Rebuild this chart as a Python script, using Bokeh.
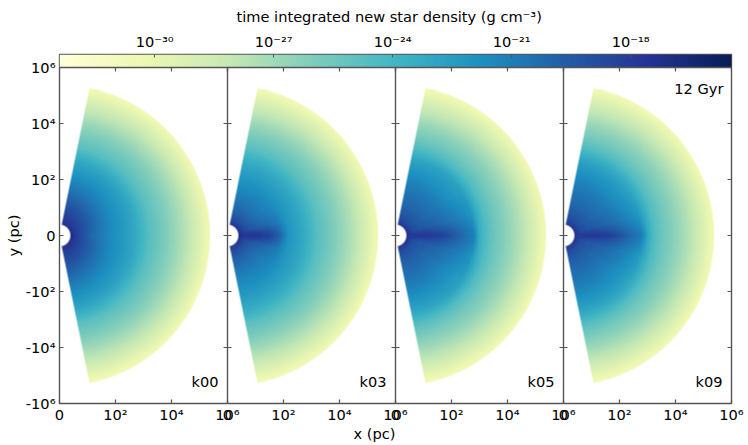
import numpy as np
from bokeh.embed import file_html
from bokeh.models import FixedTicker, LinearAxis, LinearColorMapper, Range1d, Title
from bokeh.palettes import YlGnBu9
from bokeh.plotting import figure
from bokeh.resources import INLINE
from bokeh.core.properties import value

panel_names = ["k00", "k03", "k05", "k09"]
age_label = "12 Gyr"
title_text = "time integrated new star density (g cm\u207b\u00b3)"

axis_ticks = [-6, -4, -2, 0, 2, 4, 6]
y_tick_labels = ["-10\u2076", "-10\u2074", "-10\u00b2", "0", "10\u00b2", "10\u2074", "10\u2076"]
x_panel_ticks = [2, 4, 6]
x_panel_labels = ["10\u00b2", "10\u2074", "10\u2076"]
cbar_ticks = [-30, -27, -24, -21, -18]
cbar_labels = ["10\u207b\u00b3\u2070", "10\u207b\u00b2\u2077", "10\u207b\u00b2\u2074", "10\u207b\u00b2\u00b9", "10\u207b\u00b9\u2078"]
cbar_low, cbar_high = -32.4, -15.46

# Field: log10 density at the polar control points below.
# radius is in symlog decades of the axes, angle in degrees from the +x axis.
radii = [0.39, 0.50, 0.64, 0.86, 1.14, 1.50, 1.86, 2.14, 2.36, 2.57, 2.79, 3.00, 3.21, 3.57, 4.11, 4.64, 5.00, 5.38]
angles = [0, 6, 15, 35, 78.5]
far_mid = [-25.5, -26.7, -28.0, -29.3, -30.7]
far_edge = [-25.6, -26.9, -28.3, -29.5, -30.9]

k00 = [
    [-16.5, -17.4, -18.2, -19.2, -20.1, -20.9, -21.6, -22.1, -22.5, -22.9, -23.4, -24.0, -24.7] + far_mid,
    [-16.8, -17.5, -18.2, -19.1, -20.0, -20.8, -21.6, -22.1, -22.5, -22.9, -23.4, -24.0, -24.7] + far_mid,
    [-17.0, -17.6, -18.2, -19.0, -19.8, -20.7, -21.5, -22.0, -22.4, -22.8, -23.3, -24.0, -24.7] + far_mid,
    [-17.2, -17.6, -18.1, -18.8, -19.6, -20.5, -21.3, -21.9, -22.3, -22.7, -23.3, -24.0, -24.7] + far_mid,
    [-17.4, -17.7, -18.1, -18.6, -19.3, -20.2, -21.0, -21.7, -22.2, -22.7, -23.3, -24.0, -24.8] + far_edge,
]
k03 = [
    [-16.9, -17.3, -17.5, -17.5, -17.6, -18.3, -19.8, -21.8, -22.4, -22.9, -23.4, -24.0, -24.7] + far_mid,
    [-17.0, -17.6, -17.9, -18.1, -18.3, -19.0, -20.2, -21.9, -22.4, -22.9, -23.4, -24.0, -24.7] + far_mid,
    [-17.2, -17.9, -18.6, -19.2, -19.7, -20.3, -21.0, -22.0, -22.5, -22.9, -23.4, -24.0, -24.7] + far_mid,
    [-17.4, -18.2, -19.0, -19.8, -20.4, -21.0, -21.5, -22.1, -22.5, -22.9, -23.4, -24.0, -24.7] + far_mid,
    [-17.6, -18.3, -19.0, -19.7, -20.4, -21.1, -21.7, -22.2, -22.6, -23.0, -23.5, -24.1, -24.8] + far_edge,
]
k05 = [
    [-17.5, -18.0, -17.9, -17.6, -17.6, -17.9, -18.6, -19.5, -20.0, -20.6, -21.0, -23.5, -24.4] + far_mid,
    [-17.3, -17.7, -18.0, -18.2, -18.4, -18.9, -19.5, -20.0, -20.4, -20.8, -21.3, -23.5, -24.4] + far_mid,
    [-17.3, -18.0, -18.7, -19.2, -19.5, -19.9, -20.4, -20.8, -21.1, -21.4, -22.0, -23.4, -24.4] + far_mid,
    [-17.4, -18.2, -18.9, -19.5, -20.0, -20.5, -21.0, -21.5, -21.9, -22.3, -22.5, -23.4, -24.4] + far_mid,
    [-17.6, -18.2, -18.9, -19.5, -20.0, -20.5, -21.0, -21.5, -22.0, -22.4, -23.0, -23.7, -24.5] + far_edge,
]
k09 = [
    [-17.6, -18.0, -17.9, -17.6, -17.6, -17.8, -18.5, -19.4, -20.0, -20.4, -21.0, -23.0, -24.3] + far_mid,
    [-17.4, -17.8, -18.0, -18.2, -18.4, -18.9, -19.5, -20.1, -20.5, -20.9, -21.5, -23.2, -24.4] + far_mid,
    [-17.4, -18.0, -18.7, -19.2, -19.5, -19.9, -20.4, -20.9, -21.3, -21.7, -22.3, -23.4, -24.4] + far_mid,
    [-17.5, -18.2, -18.9, -19.5, -20.0, -20.5, -21.0, -21.5, -21.9, -22.3, -22.8, -23.5, -24.4] + far_mid,
    [-17.6, -18.2, -18.9, -19.5, -20.0, -20.5, -21.0, -21.5, -22.0, -22.4, -23.0, -23.7, -24.5] + far_edge,
]
panel_fields = [k00, k03, k05, k09]

INK = "#555555"
FONT = "DejaVu Sans"
FS = "14.6px"
PX = 28.0  # screen pixels per decade

stops = np.array([[int(c[i:i + 2], 16) for i in (1, 3, 5)] for c in YlGnBu9[::-1]], dtype=float)
pos = np.linspace(0, 1, 256)
rgb = np.stack([np.interp(pos, np.linspace(0, 1, 9), stops[:, k]) for k in range(3)], axis=1)
palette = ["#%02x%02x%02x" % tuple(int(round(v)) for v in row) for row in rgb]
mapper = LinearColorMapper(palette=palette, low=cbar_low, high=cbar_high)
r_in, r_out, th_max = radii[0], radii[-1], angles[-1]


def shade(table):
    """Rasterise the read polar table onto the panel's pixel grid (y = -6..6, x = 0..6)."""
    tbl = np.array(table)
    nx, ny = 168, 336
    xs = (np.arange(nx) + 0.5) / PX
    ys = -6 + (np.arange(ny) + 0.5) / PX
    X, Y = np.meshgrid(xs, ys)
    R = np.hypot(X, Y)
    T = np.degrees(np.arctan2(np.abs(Y), X))
    ri = np.clip(np.searchsorted(radii, R) - 1, 0, len(radii) - 2)
    ti = np.clip(np.searchsorted(angles, T) - 1, 0, len(angles) - 2)
    ra, ta = np.array(radii), np.array(angles)
    fr = np.clip((R - ra[ri]) / (ra[ri + 1] - ra[ri]), 0, 1)
    ft = np.clip((T - ta[ti]) / (ta[ti + 1] - ta[ti]), 0, 1)
    V = (tbl[ti, ri] * (1 - fr) * (1 - ft) + tbl[ti, ri + 1] * fr * (1 - ft)
         + tbl[ti + 1, ri] * (1 - fr) * ft + tbl[ti + 1, ri + 1] * fr * ft)
    idx = np.clip(((V - cbar_low) / (cbar_high - cbar_low) * 255).astype(int), 0, 255)
    a = (np.clip((R - r_in) * PX + 0.5, 0, 1) * np.clip((r_out - R) * PX + 0.5, 0, 1)
         * np.clip(np.radians(th_max - T) * R * PX + 0.5, 0, 1))
    img = np.zeros((ny, nx), dtype=np.uint32)
    view = img.view(dtype=np.uint8).reshape((ny, nx, 4))
    view[..., :3] = rgb[idx].astype(np.uint8)
    view[..., 3] = (a * 255).astype(np.uint8)
    return img


cb_h = 13 / PX
n_panels = len(panel_names)
span = 6
p = figure(width=748, height=445, frame_width=672, frame_height=349,
           x_range=Range1d(0, span * n_panels), y_range=Range1d(-6, 6 + cb_h),
           output_backend="svg", toolbar_location=None,
           min_border_left=59, min_border_right=17, min_border_top=54, min_border_bottom=42)
p.grid.visible = False
p.background_fill_color = "white"
p.outline_line_color = INK
p.outline_line_width = 1.4

# panel fields
for i, tbl in enumerate(panel_fields):
    p.image_rgba(image=[shade(tbl)], x=i * span, y=-6, dw=span, dh=12)

# colour bar
p.extra_x_ranges["cb"] = Range1d(cbar_low, cbar_high)
p.image(image=[np.linspace(cbar_low, cbar_high, 672)[None, :]], x=cbar_low, y=6,
        dw=cbar_high - cbar_low, dh=cb_h, color_mapper=mapper, x_range_name="cb")

# axes; each inner panel boundary carries both the panel's "10^6" and the next panel's "0"
xt, xl = [0], {0: "0"}
for i in range(n_panels):
    for t, s in zip(x_panel_ticks, x_panel_labels):
        xt.append(i * span + t)
        xl[i * span + t] = s
    if i < n_panels - 1:
        zero_tick = (i + 1) * span + 1e-4
        xt.append(zero_tick)
        xl[zero_tick] = "0"
for ax, ticks, labels in ((p.xaxis[0], xt, xl), (p.yaxis[0], axis_ticks, dict(zip(axis_ticks, y_tick_labels)))):
    ax.ticker = FixedTicker(ticks=ticks)
    ax.major_label_overrides = labels
    ax.major_tick_in = 4
    ax.major_tick_out = 0
    ax.minor_tick_line_color = None
    ax.axis_line_color = None
    ax.major_tick_line_color = INK
    ax.major_tick_line_width = 1.2
    ax.major_label_text_font = FONT
    ax.major_label_text_font_size = FS
    ax.major_label_text_color = "black"
p.xaxis[0].major_label_standoff = 2
p.yaxis[0].major_label_standoff = 4

top = LinearAxis(x_range_name="cb", ticker=FixedTicker(ticks=cbar_ticks),
                 major_label_overrides=dict(zip(cbar_ticks, cbar_labels)))
top.major_tick_in = 3
top.major_tick_out = 0
top.minor_tick_line_color = None
top.axis_line_color = None
top.major_tick_line_color = INK
top.major_label_standoff = 5
top.major_label_text_font = FONT
top.major_label_text_font_size = FS
top.major_label_text_color = "black"
p.add_layout(top, "above")

# spines between panels and colour bar
sx = [span * (i + 1) for i in range(n_panels - 1)]
p.segment(x0=sx, y0=[-6] * len(sx), x1=sx, y1=[6] * len(sx), line_color=INK, line_width=1.4)
p.segment(x0=[0], y0=[6], x1=[span * n_panels], y1=[6], line_color=INK, line_width=1.4)

# ticks on top of panels, between panels and at the right edge
tl = 4 / PX
top_x = [t for t in xt if t > 0]
p.segment(x0=top_x, y0=[6] * len(top_x), x1=top_x, y1=[6 - tl] * len(top_x), line_color=INK, line_width=1.2)
y_in = [t for t in axis_ticks if abs(t) < 6]
for sxi in sx:
    p.segment(x0=[sxi - tl] * len(y_in), y0=y_in, x1=[sxi + tl] * len(y_in), y1=y_in, line_color=INK, line_width=1.2)
end = span * n_panels
p.segment(x0=[end - tl] * len(y_in), y0=y_in, x1=[end] * len(y_in), y1=y_in, line_color=INK, line_width=1.2)

# texts
p.text(x=[(i + 1) * span - 0.32 for i in range(n_panels)], y=[-5.21] * n_panels, text=panel_names,
       text_align="right", text_baseline="middle", text_font=value(FONT), text_font_size=FS, text_color="black")
p.text(x=[end - 0.29], y=[5.25], text=[age_label], text_align="right", text_baseline="middle",
       text_font=value(FONT), text_font_size=FS, text_color="black")

p.add_layout(Title(text=title_text, align="left", offset=177, standoff=9, text_font=FONT, text_font_size=FS,
                   text_font_style="normal", text_color="black"), "above")
p.add_layout(Title(text="x (pc)", align="left", offset=294, standoff=-6, text_font=FONT, text_font_size=FS,
                   text_font_style="normal", text_color="black"), "below")
p.add_layout(Title(text="y (pc)", align="left", offset=147, standoff=2, text_font=FONT, text_font_size=FS,
                   text_font_style="normal", text_color="black"), "left")

open("out.html", "w").write(file_html(p, INLINE))
